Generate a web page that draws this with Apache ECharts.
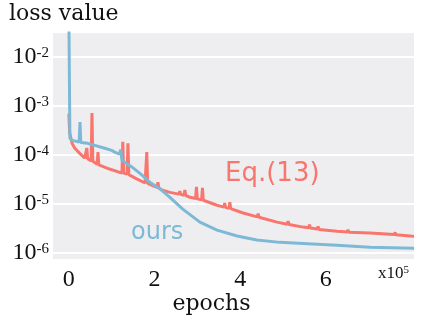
<!DOCTYPE html>
<html>
<head>
<meta charset="utf-8">
<script src="https://cdn.jsdelivr.net/npm/echarts@6/dist/echarts.min.js"></script>
<style>
  html, body { margin: 0; padding: 0; background: #fff; }
  #lossChart { width: 423px; height: 323px; }
</style>
</head>
<body>
<div id="lossChart"></div>
<script>
// epochs (raw), loss values
var eqEpochs = [0, 2000, 8000, 14000, 25000, 37000, 40000, 42000, 44000, 52000, 54000, 56000,
  66000, 68000, 70000, 95000, 124000, 126000, 128000, 136000, 138000, 140000, 155000, 178000,
  180000, 182000, 184000, 200000, 206000, 208000, 210000, 217000, 236000, 257000, 259000, 261000,
  269000, 271000, 273000, 283000, 296000, 298000, 300000, 310000, 312000, 314000, 346000,
  362000, 364000, 366000, 374000, 376000, 378000, 407000, 440000, 442000, 444000, 486000,
  510000, 512000, 514000, 547000, 560000, 562000, 564000, 580000, 582000, 584000, 626000,
  650000, 652000, 654000, 703000, 760000, 762000, 764000, 797000, 806000];
var eqLoss = [7e-4, 2.8e-4, 1.7e-4, 1.38e-4, 1.1e-4, 8.7e-5, 8.5e-5, 1.4e-4, 8.4e-5, 7.6e-5, 7.2e-4, 7.5e-5,
  6.5e-5, 1.15e-4, 6.3e-5, 5.2e-5, 4.3e-5, 1.86e-4, 4.3e-5, 4.1e-5, 1.74e-4, 4.0e-5, 3.4e-5, 2.7e-5,
  2.7e-5, 1.15e-4, 2.65e-5, 2.3e-5, 2.2e-5, 2.8e-5, 2.15e-5, 1.95e-5, 1.74e-5, 1.6e-5, 1.85e-5, 1.58e-5,
  1.52e-5, 1.95e-5, 1.5e-5, 1.38e-5, 1.3e-5, 2.24e-5, 1.28e-5, 1.22e-5, 2.14e-5, 1.2e-5, 9.5e-6,
  8.7e-6, 1.05e-5, 8.6e-6, 8.2e-6, 1.1e-5, 8.1e-6, 6.6e-6, 5.5e-6, 6.4e-6, 5.4e-6, 4.3e-6,
  3.9e-6, 4.5e-6, 3.85e-6, 3.4e-6, 3.3e-6, 3.8e-6, 3.25e-6, 3.1e-6, 3.5e-6, 3.05e-6, 2.8e-6,
  2.7e-6, 3.0e-6, 2.68e-6, 2.57e-6, 2.4e-6, 2.65e-6, 2.38e-6, 2.24e-6, 2.2e-6];

var oursEpochs = [0, 2500, 8000, 24000, 26000, 28000, 44000, 84000, 100000, 107000, 118000, 121000,
  124000, 147000, 171000, 189000, 213000, 236000, 266000, 306000, 346000, 393000, 439000,
  493000, 547000, 626000, 703000, 806000];
var oursLoss = [0.08, 2.2e-4, 2.0e-4, 1.85e-4, 4.7e-4, 1.8e-4, 1.74e-4, 1.38e-4, 1.25e-4, 1.15e-4, 1.05e-4, 1.3e-4,
  7.9e-5, 5.75e-5, 3.9e-5, 2.8e-5, 2.04e-5, 1.38e-5, 7.9e-6, 4.3e-6, 2.95e-6, 2.24e-6, 1.86e-6,
  1.66e-6, 1.58e-6, 1.45e-6, 1.32e-6, 1.26e-6];

var RED = '#F8766D';
var BLUE = '#7DB9D6';

function pairs(xs, ys) {
  return xs.map(function (x, i) { return [x, ys[i]]; });
}

var chart = echarts.init(document.getElementById('lossChart'), null, { renderer: 'canvas' });
chart.setOption({
  animation: false,
  grid: {
    left: 53, right: 9, top: 33, bottom: 64,
    show: true, backgroundColor: '#EEEEF1', borderWidth: 0
  },
  xAxis: {
    type: 'value',
    min: -37000, max: 806000,
    axisLine: { show: false },
    axisTick: { show: false },
    splitLine: { show: false },
    axisLabel: {
      margin: 9,
      fontFamily: 'Liberation Serif', fontSize: 24, color: '#111',
      formatter: function (v) {
        var k = v / 1e5;
        return (Math.abs(k - Math.round(k)) < 1e-6 && k >= 0 && k <= 6) ? String(Math.round(k)) : '';
      }
    }
  },
  yAxis: {
    type: 'log',
    logBase: 10,
    min: 7.6e-7, max: 0.031,
    axisLine: { show: false },
    axisTick: { show: false },
    splitLine: { show: true, showMinLine: false, showMaxLine: false, lineStyle: { color: '#fff', width: 2 } },
    axisLabel: {
      margin: 4,
      formatter: function (v) {
        var e = Math.log(v) / Math.LN10;
        var r = Math.round(e);
        if (Math.abs(e - r) > 0.01) return '';
        return '{b|10}{s|' + r + '}';
      },
      rich: {
        b: { fontFamily: 'Liberation Serif', fontSize: 24, lineHeight: 24, color: '#111', verticalAlign: 'bottom' },
        s: { fontFamily: 'Liberation Serif', fontSize: 15, lineHeight: 15, color: '#111', verticalAlign: 'top' }
      }
    }
  },
  series: [{
    name: 'Eq.(13)',
    type: 'line',
    showSymbol: false,
    lineStyle: { color: RED, width: 3 },
    data: pairs(eqEpochs, eqLoss)
  }, {
    name: 'ours',
    type: 'line',
    showSymbol: false,
    lineStyle: { color: BLUE, width: 3 },
    data: pairs(oursEpochs, oursLoss)
  }],
  graphic: [{
    type: 'text', left: 9, top: 3,
    style: { text: 'loss value', font: '22px "DejaVu Serif"', fill: '#111' }
  }, {
    type: 'text', left: 'center', top: 293,
    style: { text: 'epochs', font: '22px "DejaVu Serif"', fill: '#111' }
  }, {
    type: 'text', left: 378, top: 265,
    style: {
      text: '{a|x10}{p|5}',
      rich: {
        a: { fontFamily: 'Liberation Serif', fontSize: 17, lineHeight: 17, fill: '#111', verticalAlign: 'bottom' },
        p: { fontFamily: 'Liberation Serif', fontSize: 11, lineHeight: 11, fill: '#111', verticalAlign: 'top' }
      }
    }
  }, {
    type: 'text', left: 225, top: 161,
    style: { text: 'Eq.(13)', font: '26px "DejaVu Sans"', fill: RED }
  }, {
    type: 'text', left: 131, top: 221,
    style: { text: 'ours', font: '24px "DejaVu Sans"', fill: BLUE }
  }]
});
</script>
</body>
</html>
